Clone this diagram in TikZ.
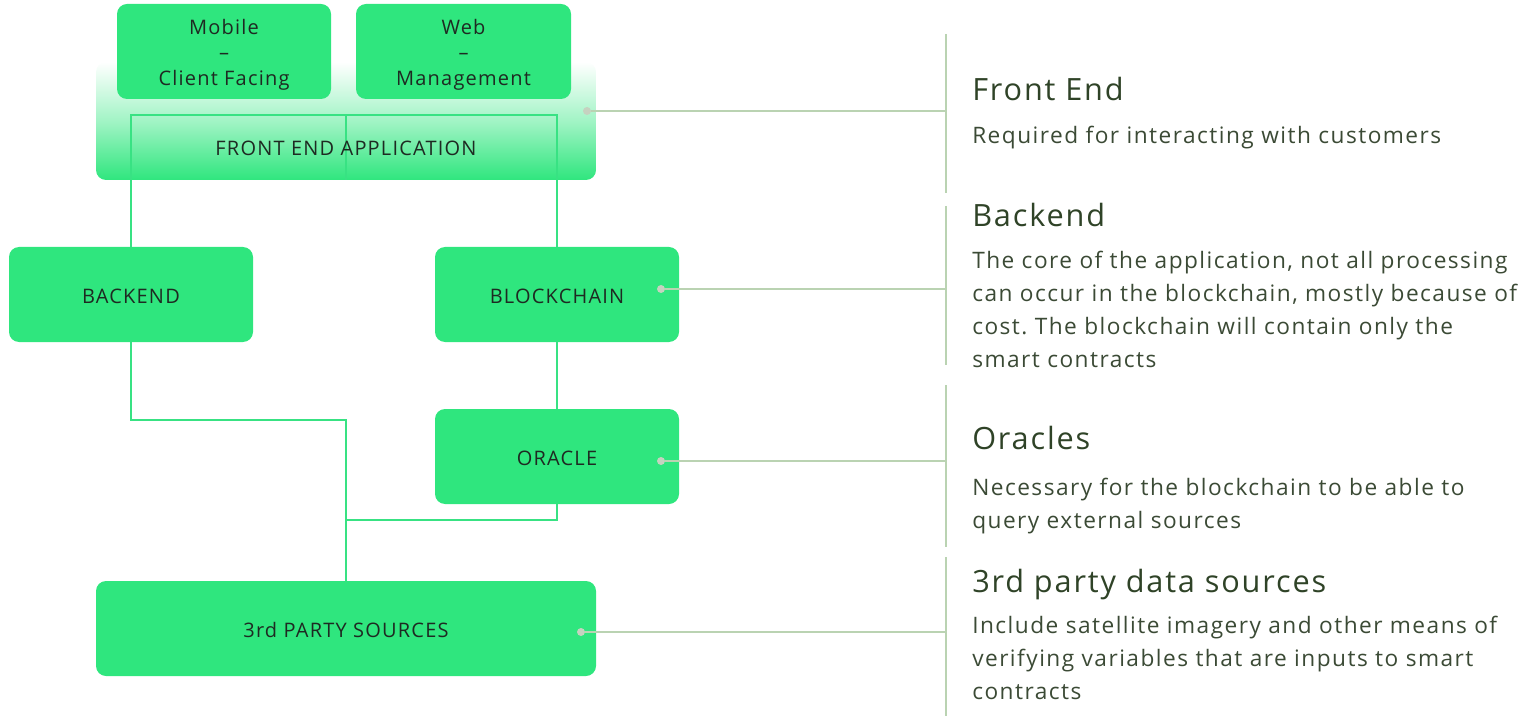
\documentclass[tikz,border=0pt]{standalone}
\usepackage{fontspec}
\setmainfont{Open Sans}[LetterSpace=6]
\newfontfamily\bodyfont{Open Sans}[LetterSpace=6.5]
\usetikzlibrary{calc}
\frenchspacing
\definecolor{boxgreen}{HTML}{2FE67E}
\definecolor{linegreen}{HTML}{38E283}
\definecolor{headcol}{HTML}{2F4327}
\definecolor{bodycol}{HTML}{3B4A35}
\definecolor{conncol}{HTML}{BAD3B2}
\definecolor{dotcol}{HTML}{C6D2C0}
\definecolor{boxtext}{HTML}{1E2A22}
\begin{document}
\begin{tikzpicture}[x=0.75pt,y=-0.75pt,
  gbox/.style={fill=boxgreen,rounded corners=7.5pt,minimum width=183pt,minimum height=71.25pt,inner sep=0pt},
  boxlabel/.style={text=boxtext,font=\fontsize{15}{19}\selectfont,inner sep=0pt,align=center,yshift=-2.3pt},
  onelabel/.style={text=boxtext,font=\fontsize{15}{19}\selectfont,inner sep=0pt,yshift=-1.4pt},
  gline/.style={draw=linegreen,line width=1.5pt},
  cline/.style={draw=conncol,line width=1.5pt},
  dotnode/.style={circle,fill=dotcol,minimum size=6pt,inner sep=0pt},
  heading/.style={anchor=base west,text=headcol,font=\fontsize{23}{27}\selectfont,inner sep=0pt},
  bodytext/.style={anchor=base west,text=bodycol,font=\bodyfont\fontsize{17}{24.75}\selectfont,inner sep=0pt,align=left}
]
\useasboundingbox (0,0) rectangle (1537,716);
% front end background
\node[rounded corners=7.5pt,minimum width=375pt,minimum height=88.5pt,inner sep=0pt,
  top color=white,bottom color=boxgreen,middle color=boxgreen!45] (feapp) at (346,121) {};
\node[gbox,minimum width=160.5pt,label={[boxlabel]center:Mobile\\–\\Client Facing}] (mobile) at (224,51.5) {};
\node[gbox,minimum width=161.25pt,label={[boxlabel]center:Web\\–\\Management}] (web) at (463.5,51.5) {};
% boxes
\node[gbox,label={[onelabel]center:BACKEND}] (backend) at (131,294.5) {};
\node[gbox,label={[onelabel]center:BLOCKCHAIN}] (chain) at (557,294.5) {};
\node[gbox,label={[onelabel]center:ORACLE}] (oracle) at (557,456.5) {};
\node[gbox,minimum width=375pt,label={[onelabel]center:3rd PARTY SOURCES}] (third) at (346,628.5) {};
% junction coordinates
\coordinate (fetop) at (346,115);
\coordinate (j1) at (346,420);
\coordinate (j2) at (346,520);
% green connectors
\draw[gline] (backend.north) |- (fetop) -| (chain.north);
\draw[gline] (fetop) -- (feapp.south);
\draw[gline] (backend.south) |- (j1) -- (third.north);
\draw[gline] (chain.south) -- (oracle.north);
\draw[gline] (oracle.south) |- (j2);
\node[text=boxtext,font=\fontsize{15}{19}\selectfont,inner sep=0pt] (fetext) at (346,148) {FRONT END APPLICATION};
% gray connectors
\node[dotnode] (d1) at (587,111) {};
\node[dotnode] (d2) at (661,289) {};
\node[dotnode] (d3) at (661,461) {};
\node[dotnode] (d4) at (581,632) {};
\coordinate (r1) at (946,111);
\coordinate (r2) at (946,289);
\coordinate (r3) at (946,461);
\coordinate (r4) at (946,632);
\draw[cline] (d1) -- (r1);
\draw[cline] (d2) -- (r2);
\draw[cline] (d3) -- (r3);
\draw[cline] (d4) -- (r4);
% vertical separators
\coordinate (v1a) at (946,34);  \coordinate (v1b) at (946,193);
\coordinate (v2a) at (946,206); \coordinate (v2b) at (946,365);
\coordinate (v3a) at (946,385); \coordinate (v3b) at (946,547);
\coordinate (v4a) at (946,557); \coordinate (v4b) at (946,716);
\draw[cline] (v1a) -- (v1b);
\draw[cline] (v2a) -- (v2b);
\draw[cline] (v3a) -- (v3b);
\draw[cline] (v4a) -- (v4b);
% right-hand texts
\node[heading] (h1) at (972,101) {Front End};
\node[bodytext] (b1) at (972,144) {Required for interacting with customers};
\node[heading] (h2) at (972,227) {Backend};
\node[bodytext,anchor=north west] (b2) at (972,251) {The core of the application, not all processing\\can occur in the blockchain, mostly because of\\cost. The blockchain will contain only the\\smart contracts};
\node[heading] (h3) at (972,449) {Oracles};
\node[bodytext,anchor=north west] (b3) at (972,478) {Necessary for the blockchain to be able to\\query external sources};
\node[heading] (h4) at (972,592) {3rd party data sources};
\node[bodytext,anchor=north west] (b4) at (972,616) {Include satellite imagery and other means of\\verifying variables that are inputs to smart\\contracts};
\end{tikzpicture}
\end{document}
